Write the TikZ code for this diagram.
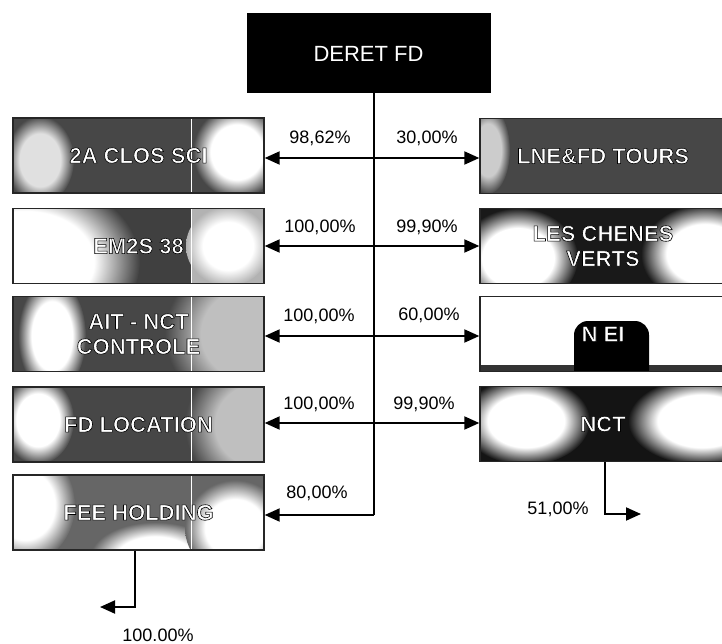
\documentclass[tikz,border=0pt]{standalone}
\usepackage{fontspec}
\setmainfont{Liberation Sans}
\usetikzlibrary{arrows.meta}
\colorlet{bgc}{black}
\colorlet{blobc}{white}
\pgfdeclareradialshading[bgc,blobc]{blob}{\pgfpoint{0bp}{0bp}}{color(0bp)=(blobc);color(15bp)=(blobc);color(25bp)=(bgc);color(50bp)=(bgc)}
\newcommand\myblob[5]{\colorlet{bgc}{#1}\colorlet{blobc}{#2}\shade[shading=blob] (#3) ellipse [x radius=#4pt, y radius=#5pt];}
\newcommand\ctx[1]{\special{pdf:code 2 Tr 0.6 w 0 G}#1\special{pdf:code 0 Tr}}
\tikzset{
  lbox/.style={draw=black!85, line width=1.4pt, minimum width=251pt, minimum height=75pt, inner sep=0pt,
     text=white, font=\bfseries\fontsize{22}{25}\selectfont, align=center},
  rbox/.style={lbox, minimum width=246pt},
  pct/.style={font=\fontsize{18}{18}\selectfont, inner sep=0pt},
  conn/.style={line width=2pt, black},
  arr/.style={conn, -{Triangle[length=15pt,width=13pt]}},
  sep/.style={white, line width=1pt},
}
\begin{document}
\begin{tikzpicture}[x=1pt,y=-1pt]
\clip (0,0) rectangle (722,644);
\fill[white] (0,0) rectangle (722,644);

% ---------- left backgrounds ----------
\begin{scope}\clip (13,118) rectangle (264,193);
 \fill[black!72] (13,118) rectangle (264,193);
 \myblob{black!72}{black!12}{40,160}{34}{44}
 \myblob{black!72}{white}{237,152}{44}{46}
\end{scope}
\begin{scope}\clip (13,209) rectangle (264,283);
 \fill[black!75] (13,209) rectangle (264,283);
 \myblob{black!75}{white}{25,262}{115}{85}
 \fill[black!30] (191,209) rectangle (264,283);
 \myblob{black!30}{white}{228,246}{42}{40}
\end{scope}
\begin{scope}\clip (13,297) rectangle (264,371);
 \fill[black!72] (13,297) rectangle (264,371);
 \myblob{black!72}{black!25}{255,334}{90}{80}
 \myblob{black!72}{white}{52,336}{34}{58}
\end{scope}
\begin{scope}\clip (13,387) rectangle (264,462);
 \fill[black!72] (13,387) rectangle (264,462);
 \myblob{black!72}{black!25}{260,425}{75}{70}
 \myblob{black!72}{white}{38,420}{36}{44}
\end{scope}
\begin{scope}\clip (13,475) rectangle (264,550);
 \fill[black!60] (13,475) rectangle (264,550);
 \myblob{black!60}{white}{25,505}{50}{58}
 \myblob{black!60}{white}{155,558}{65}{36}
 \myblob{black!60}{white}{235,528}{50}{48}
\end{scope}
\foreach \ya/\yb in {118/193,209/283,297/371,387/462,475/550}
  \draw[sep] (191,\ya) -- (191,\yb);

% ---------- right backgrounds ----------
\begin{scope}\clip (480,119) rectangle (722,193);
 \fill[black!72] (480,119) rectangle (722,193);
 \myblob{black!72}{black!20}{488,150}{22}{44}
\end{scope}
\begin{scope}\clip (480,209) rectangle (722,283);
 \fill[black!90] (480,209) rectangle (722,283);
 \myblob{black!90}{white}{518,258}{60}{50}
 \myblob{black!90}{white}{705,254}{64}{50}
\end{scope}
\begin{scope}\clip (480,297) rectangle (722,371);
 \fill[white] (480,297) rectangle (722,371);
 \fill[black!80] (480,365) rectangle (722,371);
 \fill[black, rounded corners=14pt] (574,321) rectangle (649,390);
\end{scope}
\begin{scope}\clip (480,387) rectangle (722,461);
 \fill[black!92] (480,387) rectangle (722,461);
 \myblob{black!92}{white}{526,421}{64}{44}
 \myblob{black!92}{white}{702,421}{74}{44}
\end{scope}

% ---------- nodes ----------
\node[draw=black, fill=black, line width=1pt, minimum width=243pt, minimum height=79pt, inner sep=0pt,
      text=white, font=\fontsize{22}{22}\selectfont] (deret) at (368.5,53.5) {DERET FD};

\node[lbox] (clos) at (138.5,155.5) {\ctx{2A CLOS SCI}};
\node[lbox] (em2s) at (138.5,246) {\ctx{EM2S 38}};
\node[lbox] (ait) at (138.5,334) {\ctx{AIT - NCT}\\\ctx{CONTROLE}};
\node[lbox] (fdloc) at (138.5,424.5) {\ctx{FD LOCATION}};
\node[lbox] (fee) at (138.5,512.5) {\ctx{FEE HOLDING}};

\node[rbox] (lne) at (603,156) {\ctx{LNE\&FD TOURS}};
\node[rbox] (chenes) at (603,246) {\ctx{LES CHENES}\\\ctx{VERTS}};
\node[rbox] (nei) at (603,334) {\ctx{N EI}};
\node[rbox] (nct) at (603,424) {\ctx{NCT}};

% ---------- connectors ----------
\coordinate (j1) at (374,158);
\coordinate (j2) at (374,246);
\coordinate (j3) at (374,336);
\coordinate (j4) at (374,423);
\coordinate (j5) at (374,515);
\draw[conn] (deret.south -| j1) -- (j5);
\draw[arr] (j1) -- (j1 -| clos.east);
\draw[arr] (j1) -- (j1 -| lne.west);
\draw[arr] (j2) -- (j2 -| em2s.east);
\draw[arr] (j2) -- (j2 -| chenes.west);
\draw[arr] (j3) -- (j3 -| ait.east);
\draw[arr] (j3) -- (j3 -| nei.west);
\draw[arr] (j4) -- (j4 -| fdloc.east);
\draw[arr] (j4) -- (j4 -| nct.west);
\draw[arr] (j5) -- (j5 -| fee.east);

\coordinate (f1) at (135,607);
\coordinate (f2) at (100,607);
\draw[arr] (fee.south -| f1) -- (f1) -- (f2);
\coordinate (n1) at (605,514);
\coordinate (n2) at (641,514);
\draw[arr] (nct.south -| n1) -- (n1) -- (n2);

% ---------- labels ----------
\node[pct] (p1l) at (320,138) {98,62\%};
\node[pct] (p1r) at (427,138) {30,00\%};
\node[pct] (p2l) at (320,227) {100,00\%};
\node[pct] (p2r) at (427,227) {99,90\%};
\node[pct] (p3l) at (319,316) {100,00\%};
\node[pct] (p3r) at (429,315) {60,00\%};
\node[pct] (p4l) at (319,404) {100,00\%};
\node[pct] (p4r) at (424,404) {99,90\%};
\node[pct] (p5l) at (317,493) {80,00\%};
\node[pct] (p6) at (558,509) {51,00\%};
\node[pct] (p7) at (158,635) {100.00\%};
\end{tikzpicture}
\end{document}
